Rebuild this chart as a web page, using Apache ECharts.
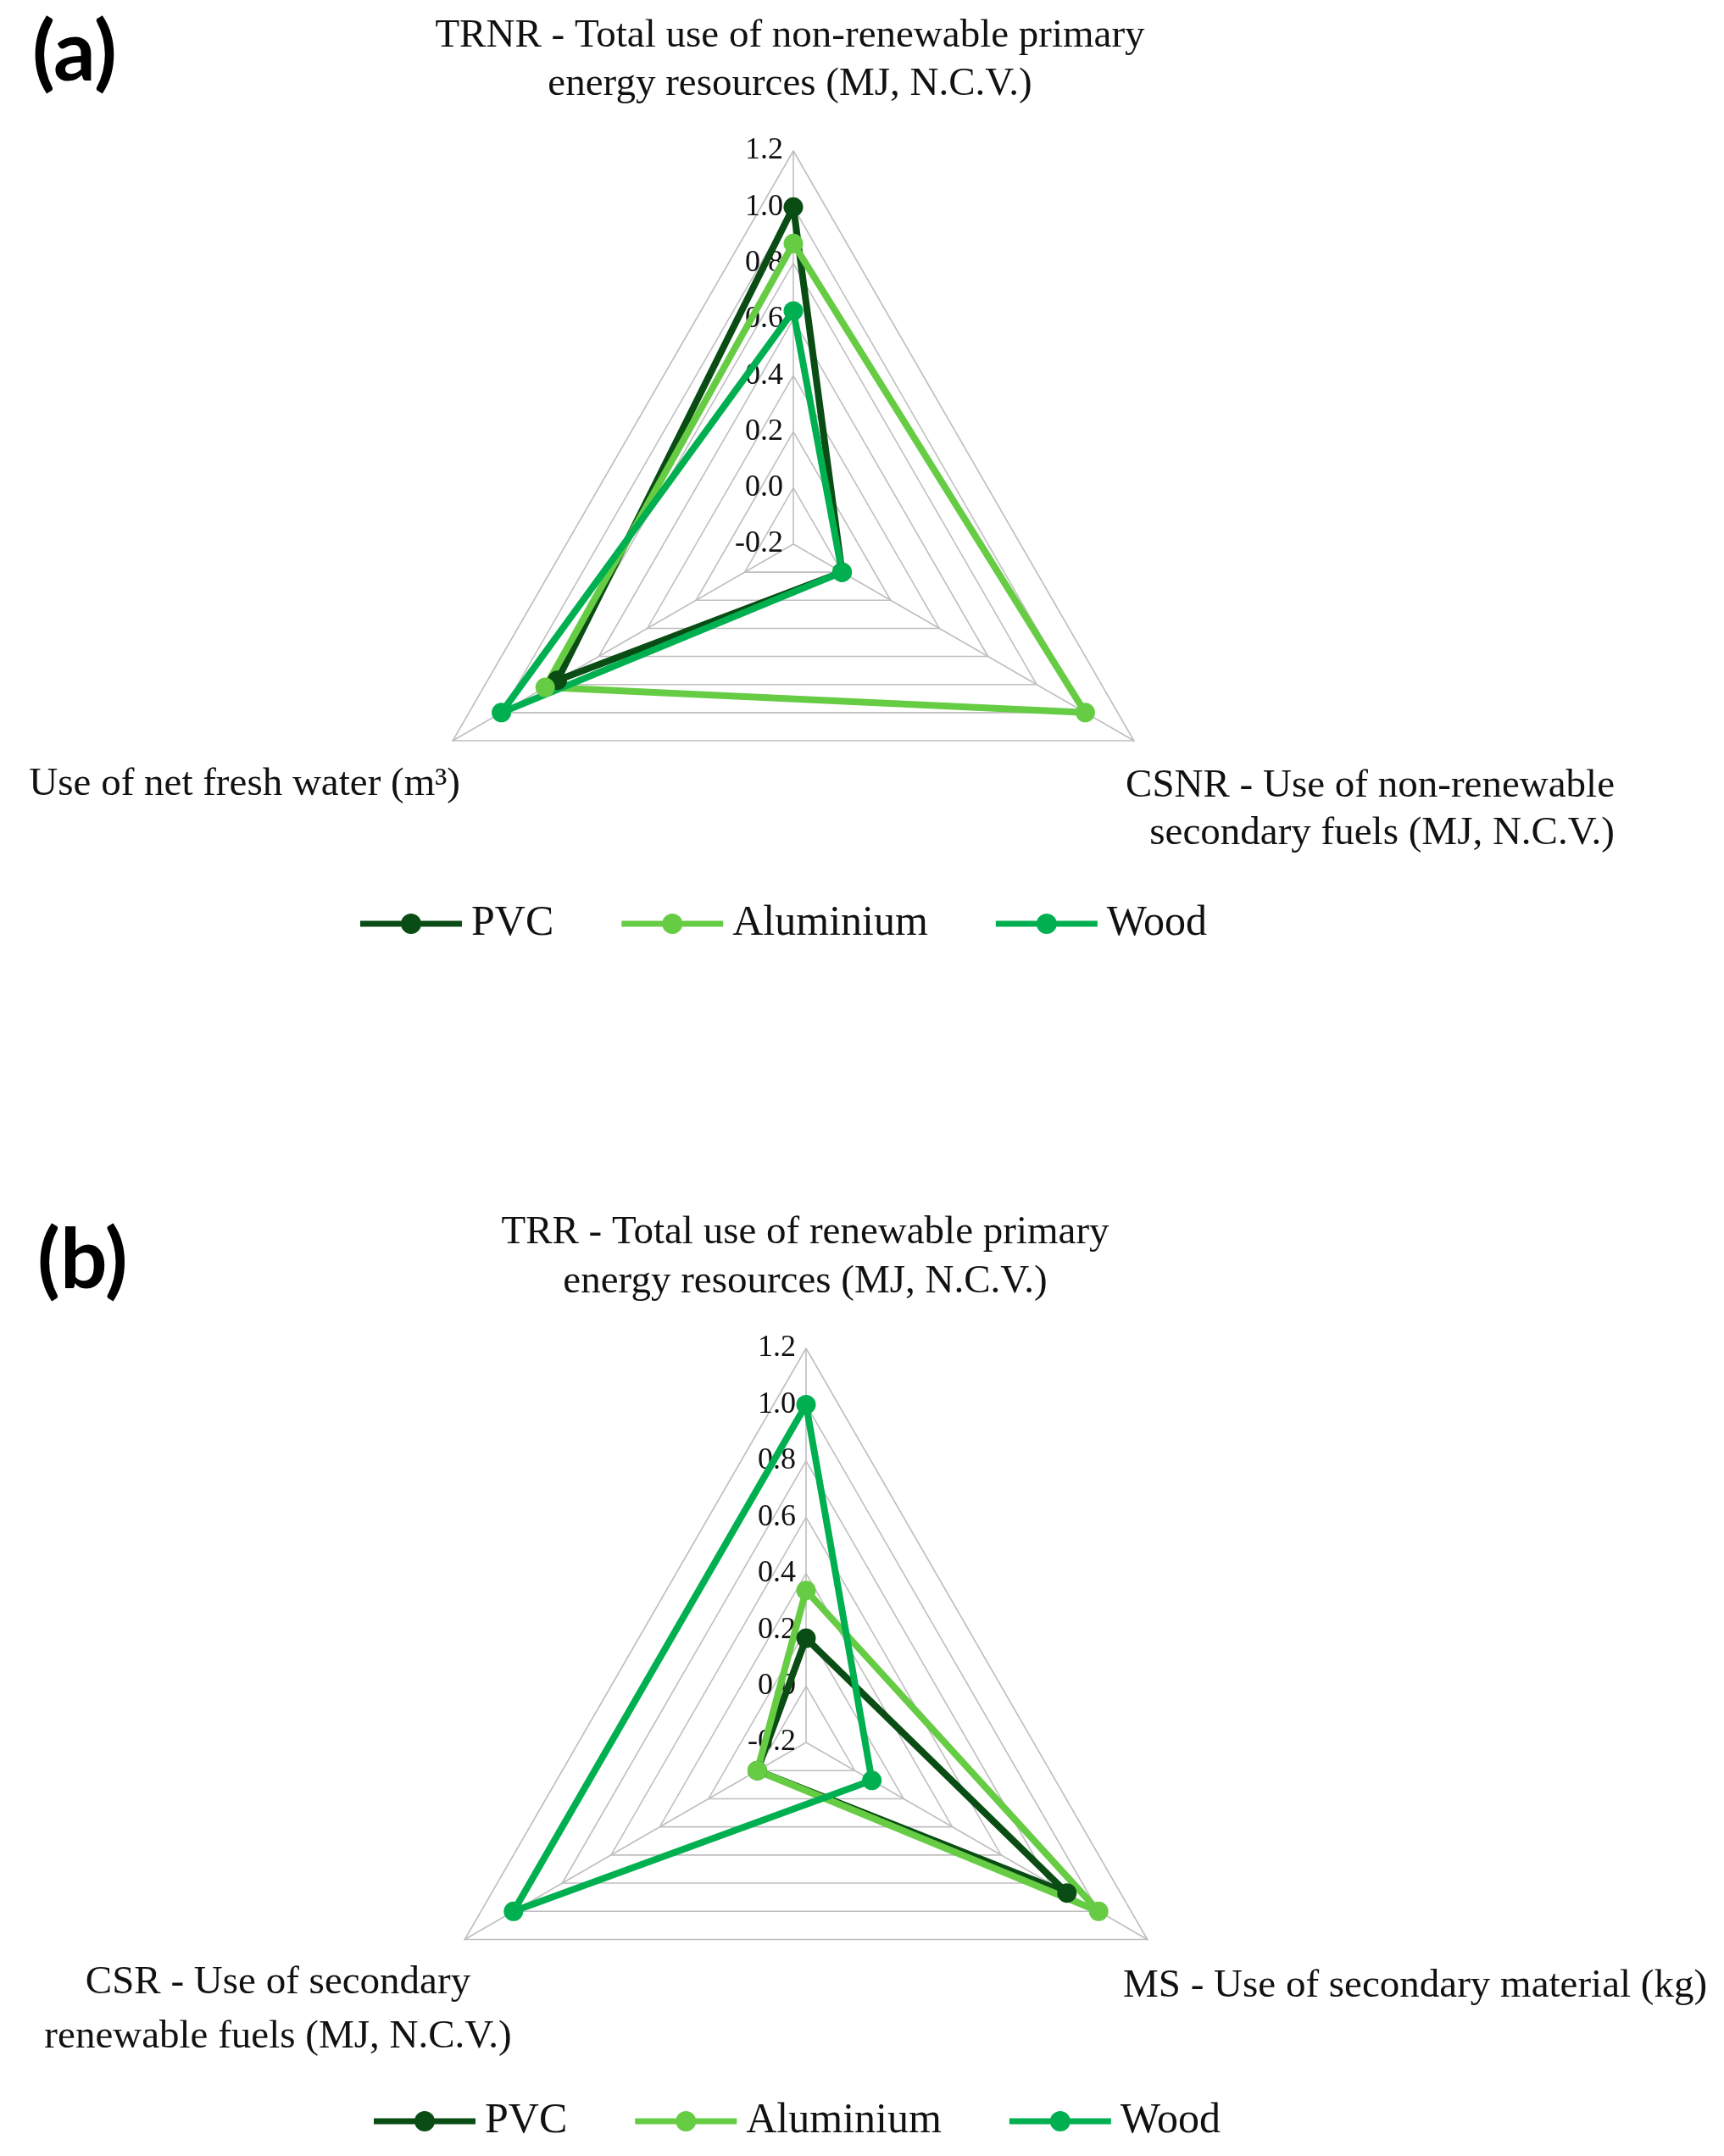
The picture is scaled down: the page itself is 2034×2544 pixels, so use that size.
<!DOCTYPE html>
<html>
<head>
<meta charset="utf-8">
<title>Radar comparison</title>
<script src="https://cdn.jsdelivr.net/npm/echarts@6/dist/echarts.min.js"></script>
<style>
    html, body { margin: 0; padding: 0; background: #ffffff; }
    #chart { width: 2034px; height: 2544px; }
</style>
</head>
<body>
<div id="chart"></div>
<script>
// materials and colours
var materials = ['PVC', 'Aluminium', 'Wood'];
var colors = ['#0a4d14', '#66cc44', '#00b050'];

// panel (a): order = top, lower-left, lower-right
var namesA = ['TRNR - Total use of non-renewable primary\nenergy resources (MJ, N.C.V.)',
    'Use of net fresh water (m\u00b3)',
    'CSNR - Use of non-renewable\nsecondary fuels (MJ, N.C.V.)'];
var pvcA = [1.0, 0.77, 0.0];
var aluA = [0.87, 0.82, 1.0];
var woodA = [0.63, 1.0, 0.0];

// panel (b): order = top, lower-left, lower-right
var namesB = ['TRR - Total use of renewable primary\nenergy resources (MJ, N.C.V.)',
    'CSR - Use of secondary\nrenewable fuels (MJ, N.C.V.)',
    'MS - Use of secondary material (kg)'];
var pvcB = [0.17, 0.0, 0.87];
var aluB = [0.34, 0.0, 1.0];
var woodB = [1.0, 1.0, 0.07];

// axis scale
var axisMin = -0.2;
var axisMax = 1.2;
var axisSplits = 7;

var serif = '"Liberation Serif", "Times New Roman", serif';
// line with a dot in the middle, same look as the excel legend key
var legendIcon = 'path://M0 8.5 L50 8.5 L50 15.5 L0 15.5 Z M70 8.5 L120 8.5 L120 15.5 L70 15.5 Z ' +
    'M48 12 A12 12 0 1 1 72 12 A12 12 0 1 1 48 12 Z';

function indicators(names) {
    return names.map(function (n, i) {
        var ind = {name: n, min: axisMin, max: axisMax};
        if (i === 0) {
            ind.axisLabel = {show: true};
        }
        return ind;
    });
}

function radarBox(center, radius, names) {
    return {
        center: center,
        radius: radius,
        startAngle: 90,
        shape: 'polygon',
        splitNumber: axisSplits,
        indicator: indicators(names),
        axisName: {show: false},
        splitArea: {show: false},
        splitLine: {lineStyle: {color: '#bfbfbf', width: 1.6}},
        axisLine: {lineStyle: {color: '#bfbfbf', width: 1.6}},
        axisTick: {show: false},
        axisLabel: {
            show: false,
            margin: 12,
            fontFamily: serif,
            fontSize: 36,
            color: '#111',
            formatter: function (v) {
                return (Math.round(v * 10) / 10).toFixed(1);
            }
        }
    };
}

function radarSeries(idx, sets) {
    return {
        type: 'radar',
        radarIndex: idx,
        symbol: 'circle',
        symbolSize: 23,
        data: sets.map(function (vals, i) {
            return {
                name: materials[i],
                value: vals,
                itemStyle: {color: colors[i]},
                lineStyle: {color: colors[i], width: 8}
            };
        })
    };
}

function legendAt(left, top) {
    return {
        data: materials,
        left: left,
        top: top,
        icon: legendIcon,
        itemWidth: 120,
        itemHeight: 24,
        itemGap: 80,
        selectedMode: false,
        textStyle: {fontFamily: serif, fontSize: 50, color: '#111', padding: [0, 0, 0, 6]}
    };
}

function label(text, x, y, align, lineHeight) {
    return {
        type: 'text',
        x: x,
        y: y,
        silent: true,
        style: {
            text: text,
            font: '47px ' + serif,
            fill: '#111',
            align: align,
            verticalAlign: 'middle',
            lineHeight: lineHeight
        }
    };
}

var myChart = echarts.init(document.getElementById('chart'), null, {renderer: 'canvas'});

var option = {
    backgroundColor: '#ffffff',
    animation: false,
    color: colors,
    radar: [
        radarBox([936, 642], 464, namesA),
        radarBox([951, 2056], 465, namesB)
    ],
    legend: [
        legendAt(420, 1060),
        legendAt(436, 2473)
    ],
    graphic: [
        {type: 'text', x: 38, y: 63, silent: true,
            style: {text: '(a)', font: 'bold 98px Lato, "Open Sans", sans-serif', fill: '#000', verticalAlign: 'middle'}},
        {type: 'text', x: 44, y: 1488, silent: true,
            style: {text: '(b)', font: 'bold 98px Lato, "Open Sans", sans-serif', fill: '#000', verticalAlign: 'middle'}},
        label(namesA[0], 932, 71, 'center', 57),
        label(namesA[1], 543, 926, 'right', 57),
        label(namesA[2], 1905, 956, 'right', 56),
        label(namesB[0], 950, 1484, 'center', 58),
        label(namesB[1], 328, 2372, 'center', 64),
        label(namesB[2], 1325, 2344, 'left', 57)
    ],
    series: [
        radarSeries(0, [pvcA, aluA, woodA]),
        radarSeries(1, [pvcB, aluB, woodB])
    ]
};

myChart.setOption(option);

window.addEventListener('resize', function () {
    myChart.resize();
});
</script>
</body>
</html>
